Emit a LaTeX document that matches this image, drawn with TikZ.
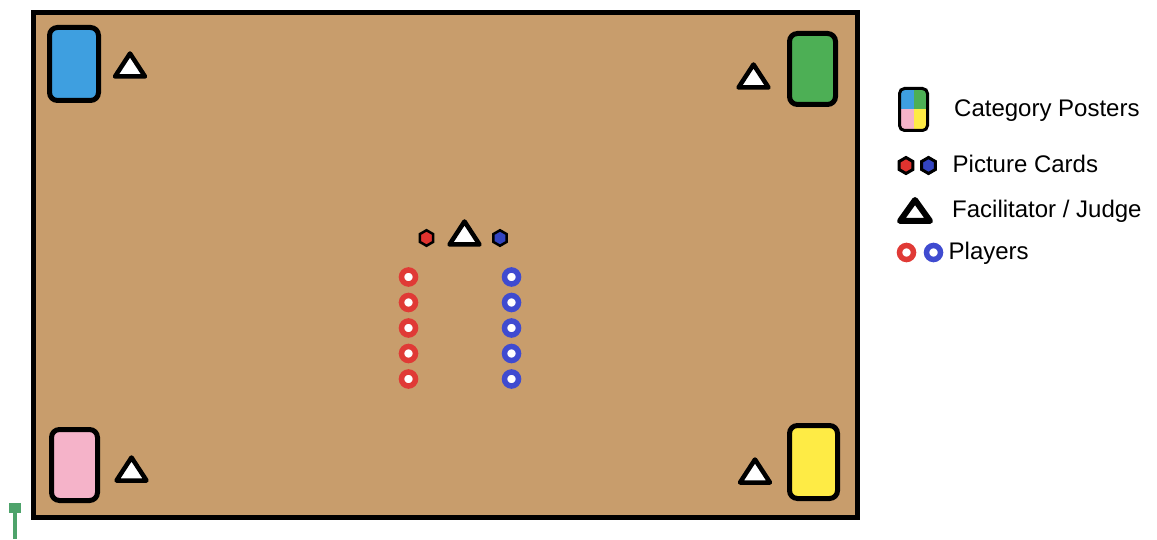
\documentclass[tikz,border=0pt]{standalone}
\usepackage{fontspec}
\setmainfont{Liberation Sans}
\usetikzlibrary{shapes.geometric}
\definecolor{boardtan}{HTML}{C89D6C}
\definecolor{pblue}{HTML}{3E9FE0}
\definecolor{pgreen}{HTML}{4DAF55}
\definecolor{ppink}{HTML}{F5B3C9}
\definecolor{pyellow}{HTML}{FEEB45}
\definecolor{plred}{HTML}{E03A36}
\definecolor{plblue}{HTML}{3F4BD0}
\definecolor{hexred}{HTML}{E0332F}
\definecolor{hexblue}{HTML}{3344C0}
\definecolor{pingreen}{HTML}{4EA36B}
\tikzset{
  poster/.style={draw=black, line width=5, rounded corners=8, inner sep=0, minimum width=48, minimum height=72},
  judge/.pic={\draw[line width=4.5, line join=round, fill=white] (-15,9.5) -- (0,-13.5) -- (15,9.5) -- cycle;},
  legjudge/.pic={\draw[line width=6, line join=round, fill=white] (-15,9) -- (0,-12) -- (15,9) -- cycle;},
  card/.style={regular polygon, regular polygon sides=6, regular polygon rotate=30, draw=black, line width=2.5, inner sep=0, minimum size=15.5},
  player/.style={circle, line width=5.5, fill=white, inner sep=0, minimum size=14},
  legplayer/.style={circle, line width=5.5, fill=white, inner sep=0, minimum size=14},
  legtext/.style={font=\fontsize{24}{28}\selectfont, inner sep=0, anchor=base west},
}
\begin{document}
\begin{tikzpicture}[x=1pt,y=-1pt]
\useasboundingbox (0,0) rectangle (1157,540);
% board
\node[draw=black, line width=5, fill=boardtan, minimum width=824, minimum height=504, inner sep=0] (board) at (445,265) {};
% posters
\node[poster, fill=pblue, minimum width=49, minimum height=73] (pb) at (74,64) {};
\node[poster, fill=pgreen, minimum width=46, minimum height=71] (pg) at (812.5,69) {};
\node[poster, fill=ppink, minimum width=46, minimum height=71] (pp) at (74.5,465) {};
\node[poster, fill=pyellow, minimum width=48, minimum height=73] (py) at (813.5,462) {};
% judges
\pic (j1) at (130,67) {judge};
\pic (j2) at (753.5,78) {judge};
\pic (j3) at (131.5,471) {judge};
\pic (j4) at (755,473) {judge};
\pic (j5) at (464.5,235) {judge};
% picture cards
\node[card, fill=hexred] (cr) at (426.5,238) {};
\node[card, fill=hexblue] (cb) at (500,238) {};
% players
\foreach \i/\y in {1/277,2/302.5,3/328,4/353.5,5/379}{
  \node[player, draw=plred] (r\i) at (408.5,\y) {};
  \node[player, draw=plblue] (b\i) at (511.5,\y) {};
}
% legend
\node[draw=black, line width=3, rounded corners=5, inner sep=0, minimum width=28, minimum height=42,
  path picture={
    \fill[pblue, sharp corners] (path picture bounding box.north west) rectangle (path picture bounding box.center);
    \fill[pgreen, sharp corners] (path picture bounding box.north east) rectangle (path picture bounding box.center);
    \fill[ppink, sharp corners] (path picture bounding box.south west) rectangle (path picture bounding box.center);
    \fill[pyellow, sharp corners] (path picture bounding box.south east) rectangle (path picture bounding box.center);
  }] (lposter) at (913.5,109.5) {};
\node[legtext] (t1) at (954,117) {Category Posters};
\node[card, fill=hexred, line width=3, minimum size=16] (lcr) at (906,165.5) {};
\node[card, fill=hexblue, line width=3, minimum size=16] (lcb) at (928.5,165.5) {};
\node[legtext] (t2) at (952.5,173) {Picture Cards};
\pic (lj) at (915,212) {legjudge};
\node[legtext] (t3) at (952,217.5) {Facilitator / Judge};
\node[legplayer, draw=plred] (lpr) at (906.5,252.5) {};
\node[legplayer, draw=plblue] (lpb) at (933.5,252.5) {};
\node[legtext] (t4) at (948.5,260) {Players};
% green pin
\node[fill=pingreen, minimum width=12, minimum height=10, inner sep=0] (pin) at (15,508) {};
\coordinate (pinend) at (15,539);
\draw[pingreen, line width=3.4] (pin.south) -- (pinend);
\end{tikzpicture}
\end{document}
